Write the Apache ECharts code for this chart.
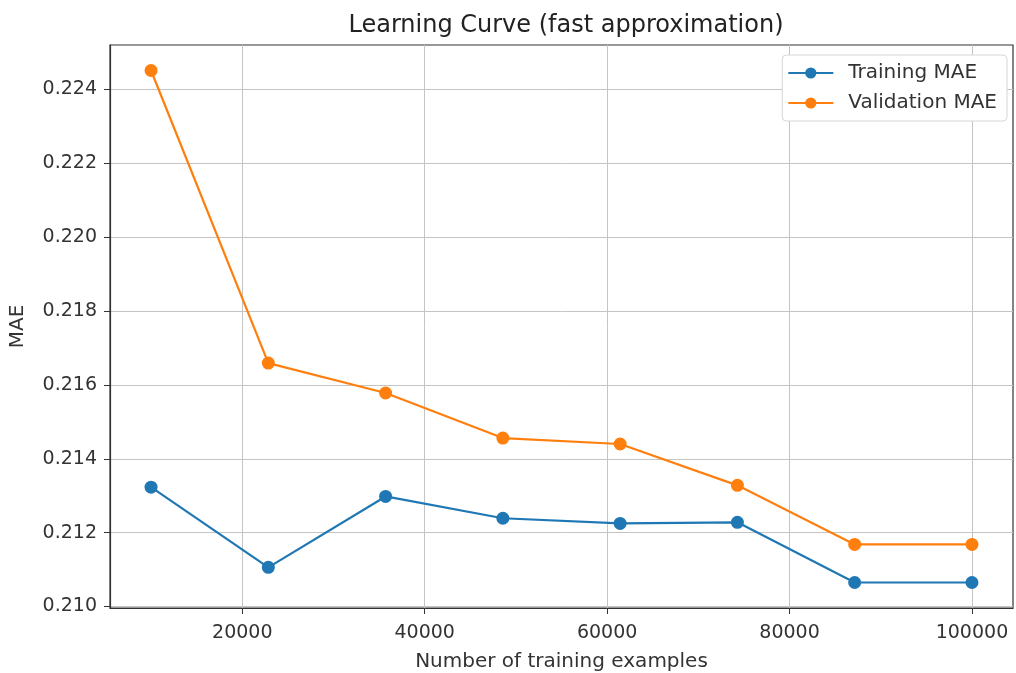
<!DOCTYPE html>
<html>
<head>
<meta charset="utf-8">
<script src="https://cdn.jsdelivr.net/npm/echarts@6/dist/echarts.min.js"></script>
<style>
    html, body { margin: 0; padding: 0; background: #fff; }
    #main { width: 1016px; height: 673px; }
</style>
</head>
<body>
<div id="main"></div>
<script>
// 训练样本数
var trainSizes = [10000, 22857, 35714, 48571, 61428, 74285, 87142, 100000];
// 训练误差
var trainMae = [0.21323, 0.21106, 0.21298, 0.21239, 0.21225, 0.21228, 0.21065, 0.21065];
// 验证误差
var validMae = [0.22451, 0.21659, 0.21578, 0.21456, 0.21440, 0.21328, 0.21168, 0.21168];
// 坐标轴刻度
var xTicks = [20000, 40000, 60000, 80000, 100000];
var yTicks = [0.210, 0.212, 0.214, 0.216, 0.218, 0.220, 0.222, 0.224];

function pairs(xs, ys){
    return xs.map(function(x, i){ return [x, ys[i]]; });
}

var myChart = echarts.init(document.getElementById('main'));
var font = 'DejaVu Sans';
var option = {
    backgroundColor: '#fff',
    animation: false,
    textStyle: { fontFamily: font },
    title: {
        text: 'Learning Curve (fast approximation)',
        left: 561,
        textAlign: 'center',
        top: 9,
        textStyle: { fontFamily: font, fontSize: 24, fontWeight: 'normal', color: '#222' }
    },
    legend: {
        orient: 'vertical',
        right: 9,
        top: 55,
        itemWidth: 45,
        itemHeight: 14,
        itemGap: 8,
        padding: [7, 10, 7, 5],
        borderColor: '#d6d6d6',
        borderWidth: 1,
        borderRadius: 4,
        backgroundColor: '#fff',
        textStyle: { fontFamily: font, fontSize: 20, color: '#333', padding: [0, 0, 0, 10], lineHeight: 22 },
        data: ['Training MAE', 'Validation MAE']
    },
    grid: {
        left: 110,
        right: 3,
        top: 45,
        bottom: 65,
        outerBoundsMode: 'none',
        show: true,
        borderColor: '#333',
        borderWidth: 1.2
    },
    xAxis: {
        type: 'value',
        min: 5500,
        max: 104500,
        name: 'Number of training examples',
        nameLocation: 'middle',
        nameGap: 44,
        nameTextStyle: { fontFamily: font, fontSize: 20, color: '#333' },
        axisLine: { lineStyle: { color: '#333', width: 1.2 } },
        axisTick: { show: true, length: 6, customValues: xTicks, lineStyle: { color: '#333' } },
        axisLabel: {
            customValues: xTicks,
            fontSize: 19,
            color: '#333',
            margin: 16,
            fontFamily: font,
            formatter: function(v){ return String(v); }
        },
        splitLine: { show: true, lineStyle: { color: '#c4c4c4', width: 1 } }
    },
    yAxis: {
        type: 'value',
        min: 0.20996,
        max: 0.2252,
        name: 'MAE',
        nameLocation: 'middle',
        nameGap: 82,
        nameTextStyle: { fontFamily: font, fontSize: 20, color: '#333' },
        axisLine: { show: true, lineStyle: { color: '#333', width: 1.2 } },
        axisTick: { show: true, length: 6, customValues: yTicks, lineStyle: { color: '#333' } },
        axisLabel: {
            customValues: yTicks,
            fontSize: 19,
            color: '#333',
            margin: 13,
            fontFamily: font,
            formatter: function(v){ return v.toFixed(3); }
        },
        splitLine: { show: true, lineStyle: { color: '#c4c4c4', width: 1 } }
    },
    series: [
        {
            name: 'Training MAE',
            type: 'line',
            data: pairs(trainSizes, trainMae),
            symbol: 'circle',
            symbolSize: 13,
            color: '#1f77b4',
            lineStyle: { width: 2.2 }
        },
        {
            name: 'Validation MAE',
            type: 'line',
            data: pairs(trainSizes, validMae),
            symbol: 'circle',
            symbolSize: 13,
            color: '#ff7f0e',
            lineStyle: { width: 2.2 }
        }
    ]
};
myChart.setOption(option);
</script>
</body>
</html>
